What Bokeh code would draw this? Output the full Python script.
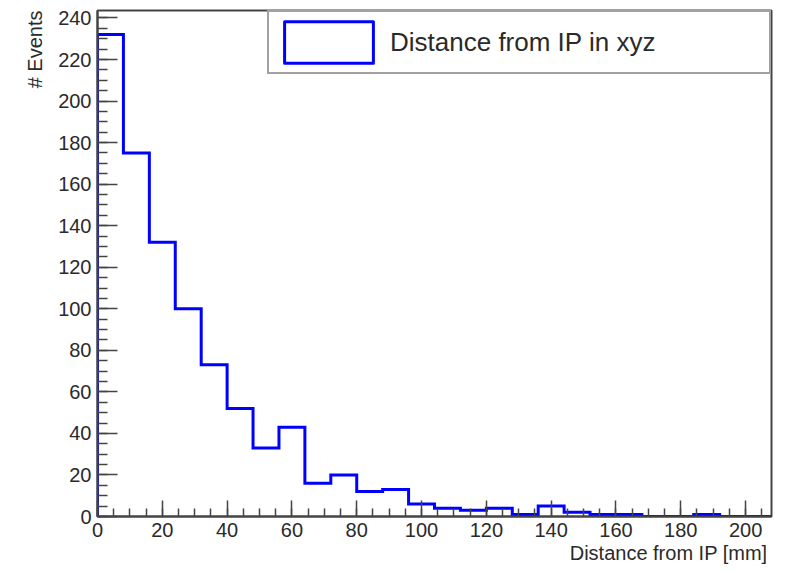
import numpy as np
from bokeh.plotting import figure
from bokeh.models import Range1d, SingleIntervalTicker, Legend, LegendItem, Title
from bokeh.embed import file_html
from bokeh.resources import INLINE

# ---- data ----
bin_edges = [0, 8, 16, 24, 32, 40, 48, 56, 64, 72, 80, 88, 96, 104, 112,
             120, 128, 136, 144, 152, 160, 168, 176, 184, 192, 200, 208]
counts = [232, 175, 132, 100, 73, 52, 33, 43, 16, 20, 12, 13, 6, 4, 3,
          4, 1, 5, 2, 1, 1, 0, 0, 1, 0, 0]
x_title = "Distance from IP [mm]"
y_title = "# Events"
legend_text = "Distance from IP in xyz"
tick_interval = 20

FONT = "Liberation Sans"
TEXT = "#2a2a2a"
FRAME = "#444444"
BLUE = "#0000ff"

edges = np.array(bin_edges, dtype=float)
vals = np.array(counts, dtype=float)
step_x = np.repeat(edges, 2)
step_y = np.concatenate([[0.0], np.repeat(vals, 2), [0.0]])

p = figure(width=777, height=564,
           x_range=Range1d(bin_edges[0], bin_edges[-1]),
           y_range=Range1d(0, max(counts) * 1.05),
           output_backend="svg", toolbar_location=None,
           min_border_left=97, min_border_right=6,
           min_border_top=10, min_border_bottom=48)

p.xgrid.visible = False
p.ygrid.visible = False
p.outline_line_color = FRAME
p.outline_line_width = 2
p.background_fill_color = "white"
p.border_fill_color = "white"

for ax in (p.xaxis[0], p.yaxis[0]):
    ax.axis_line_color = FRAME
    ax.axis_line_width = 2
    ax.major_tick_out = 0
    ax.minor_tick_out = 0
    ax.major_tick_line_color = FRAME
    ax.minor_tick_line_color = FRAME
    ax.major_tick_line_width = 1.5
    ax.minor_tick_line_width = 1.5
    ax.major_label_text_font = FONT
    ax.major_label_text_font_size = "20px"
    ax.major_label_text_color = TEXT
    ax.major_label_standoff = 6
    ax.ticker = SingleIntervalTicker(interval=tick_interval, num_minor_ticks=4)

p.xaxis.major_tick_in = 16
p.xaxis.minor_tick_in = 8
p.yaxis.major_tick_in = 20
p.yaxis.minor_tick_in = 10

# histogram outline (step)
p.line(step_x, step_y, line_color=BLUE, line_width=3, line_join="miter")

# legend swatch renderer (no visible data)
r_leg = p.quad(left=np.array([np.nan]), right=np.array([np.nan]),
               top=np.array([np.nan]), bottom=np.array([np.nan]),
               fill_color="white", line_color=BLUE, line_width=3,
               line_join="round")

legend = Legend(items=[LegendItem(label=legend_text, renderers=[r_leg])],
                location="top_right", margin=0, padding=4,
                glyph_width=111, glyph_height=52, label_standoff=6,
                label_width=375, spacing=0,
                label_text_font=FONT, label_text_font_size="26px",
                label_text_color=TEXT,
                border_line_color=FRAME, border_line_width=2,
                background_fill_color="white", background_fill_alpha=1.0)
p.add_layout(legend)

p.add_layout(Title(text=x_title, align="right", offset=4, standoff=0,
                   text_font=FONT, text_font_size="20px",
                   text_font_style="normal", text_color=TEXT), "below")
p.add_layout(Title(text=y_title, align="right", offset=0, standoff=20,
                   text_font=FONT, text_font_size="20px",
                   text_font_style="normal", text_color=TEXT), "left")

open("out.html", "w").write(file_html(p, INLINE))
